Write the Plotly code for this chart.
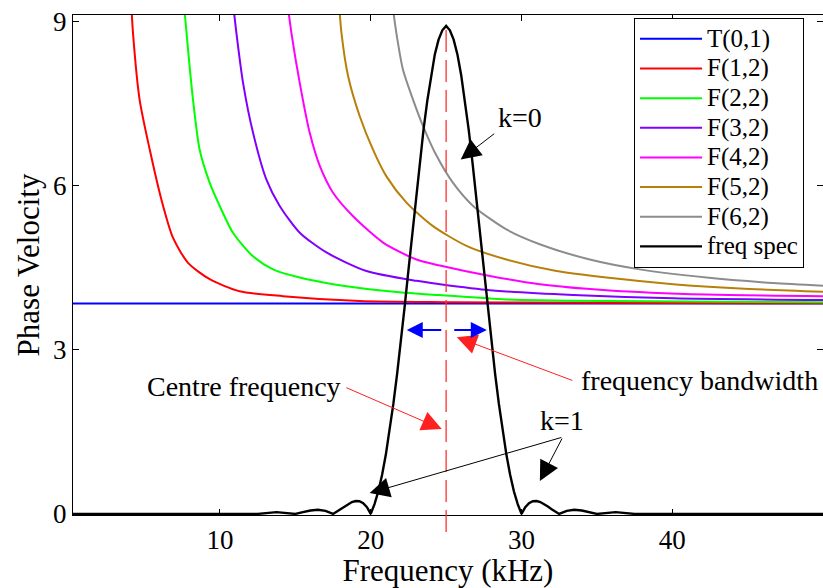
import plotly.graph_objects as go

# ---------------- data ----------------
series_names = ["T(0,1)", "F(1,2)", "F(2,2)", "F(3,2)", "F(4,2)", "F(5,2)", "F(6,2)", "freq spec"]
series_colors = ["#0000FF", "#FF0000", "#00FF00", "#8000FF", "#FF00FF", "#B8800A", "#8C8C8C", "#000000"]

t01_x = [0.25, 50.0]
t01_y = [3.845, 3.845]

f12_x = [4.08, 4.23, 4.67, 5.34, 6.11, 6.88, 7.88, 9.32, 11.3, 14.18, 19.27, 25.0, 35.0, 50.0]
f12_y = [9.5, 8.79, 7.57, 6.66, 5.75, 5.05, 4.59, 4.29, 4.07, 3.98, 3.89, 3.87, 3.86, 3.85]

f22_x = [7.55, 7.88, 8.21, 8.65, 9.32, 9.98, 10.86, 12.19, 13.52, 15.29, 17.5, 21.9, 24.58, 29.0, 35.64, 50.0]
f22_y = [9.5, 8.49, 7.57, 6.66, 6.05, 5.63, 5.14, 4.71, 4.47, 4.32, 4.20, 4.05, 4.00, 3.92, 3.89, 3.87]

f32_x = [10.8, 11.09, 11.53, 12.19, 13.08, 13.96, 15.29, 17.06, 19.71, 23.03, 24.58, 27.9, 33.42, 40.06, 50.0]
f32_y = [9.5, 8.79, 7.88, 6.97, 6.11, 5.63, 5.14, 4.78, 4.44, 4.26, 4.20, 4.09, 4.00, 3.94, 3.91]

f42_x = [14.4, 14.74, 15.29, 15.95, 16.62, 17.5, 18.83, 20.82, 23.03, 24.58, 27.9, 31.21, 35.64, 42.27, 50.0]
f42_y = [9.5, 8.79, 7.88, 6.97, 6.36, 5.87, 5.44, 4.96, 4.65, 4.54, 4.35, 4.20, 4.09, 4.01, 3.98]

f52_x = [17.85, 18.06, 18.5, 19.27, 20.15, 21.04, 22.37, 24.13, 26.35, 29.0, 32.32, 35.64, 40.06, 44.49, 50.0]
f52_y = [9.5, 8.79, 8.0, 7.27, 6.66, 6.17, 5.69, 5.26, 4.90, 4.65, 4.44, 4.32, 4.20, 4.12, 4.06]

f62_x = [21.35, 21.7, 22.14, 22.81, 23.47, 24.36, 25.46, 26.79, 29.0, 31.21, 34.53, 37.85, 42.27, 46.7, 50.0]
f62_y = [9.5, 8.79, 8.12, 7.57, 7.09, 6.55, 6.05, 5.63, 5.20, 4.93, 4.65, 4.47, 4.32, 4.22, 4.17]

spec_x = [0.25, 12.5, 13.75, 15.0, 15.5, 16.0, 16.5, 17.0, 17.5, 17.75, 18.0, 18.25, 18.5, 18.75,
          19.0, 19.25, 19.5, 19.75, 20.0, 20.25, 20.5, 20.75, 21.0, 21.25, 21.5, 21.75, 22.0,
          22.25, 22.5, 22.75, 23.0, 23.25, 23.5, 23.75, 24.0, 24.25, 24.5, 24.75, 25.0,
          25.25, 25.5, 25.75, 26.0, 26.25, 26.5, 26.75, 27.0, 27.25, 27.5, 27.75, 28.0,
          28.25, 28.5, 28.75, 29.0, 29.25, 29.5, 29.75, 30.0, 30.25, 30.5, 30.75, 31.0,
          31.25, 31.5, 31.75, 32.0, 32.25, 32.5, 33.0, 33.5, 34.0, 34.5, 35.0, 36.25, 37.5, 50.0]
spec_y = [0.0, 0.0, 0.033, 0.0, 0.033, 0.063, 0.075, 0.056, 0.0, 0.041, 0.087, 0.135, 0.180, 0.216,
          0.236, 0.232, 0.197, 0.122, 0.0, 0.18, 0.41, 0.71, 1.08, 1.51, 2.01, 2.56, 3.15,
          3.79, 4.45, 5.12, 5.78, 6.42, 7.02, 7.55, 8.02, 8.40, 8.67, 8.84, 8.92,
          8.84, 8.67, 8.40, 8.02, 7.55, 7.02, 6.42, 5.78, 5.12, 4.45, 3.79, 3.15,
          2.56, 2.01, 1.51, 1.08, 0.71, 0.41, 0.18, 0.0, 0.122, 0.197, 0.232, 0.236,
          0.216, 0.180, 0.135, 0.087, 0.041, 0.0, 0.056, 0.075, 0.063, 0.033, 0.0, 0.033, 0.0, 0.0]

series_x = [t01_x, f12_x, f22_x, f32_x, f42_x, f52_x, f62_x, spec_x]
series_y = [t01_y, f12_y, f22_y, f32_y, f42_y, f52_y, f62_y, spec_y]

x_ticks = [10, 20, 30, 40]
y_ticks = [0, 3, 6, 9]
x_range = [0.25, 50.0]
y_range = [-0.02, 9.12]

centre_freq = 25.0
centre_line_y = [-0.33, 8.98]

FONT = "Liberation Serif"

fig = go.Figure()
for i, (name, col, xs, ys) in enumerate(zip(series_names, series_colors, series_x, series_y)):
    straight = (name == "freq spec") or i == 0
    fig.add_trace(go.Scatter(
        x=xs, y=ys, mode="lines",
        name='<span style="font-size:25px">' + name + '</span>',
        line=dict(color=col, width=2.4 if name == "freq spec" else 2,
                  shape="linear" if straight else "spline",
                  smoothing=None if straight else 0.7),
    ))

# red dashed centre-frequency line (extends slightly below the axis)
def to_paper(v):
    return (v - y_range[0]) / (y_range[1] - y_range[0])

fig.add_shape(type="line", xref="x", yref="paper",
              x0=centre_freq, x1=centre_freq,
              y0=to_paper(centre_line_y[0]), y1=to_paper(centre_line_y[1]),
              line=dict(color="#FF3030", width=1.3, dash="22px,8px"))

ann_font = dict(family=FONT, size=28, color="black")

texts = [
    ("k=0", 29.89, 7.24),
    ("Centre frequency", 11.57, 2.32),
    ("frequency bandwidth", 41.8, 2.43),
    ("k=1", 32.71, 1.70),
]
for t, x, y in texts:
    fig.add_annotation(x=x, y=y, text=t, showarrow=False, font=ann_font,
                       xanchor="center", yanchor="middle")

# arrows: (tail_x, tail_y, tip_x, tip_y, color, width, size)
arrows = [
    (28.29, 6.97, 25.97, 6.48, "black", 1, 4),
    (18.28, 2.32, 24.71, 1.55, "#FF2020", 1, 4),
    (33.47, 2.43, 25.71, 3.23, "#FF2020", 1, 4),
    (32.74, 1.405, 19.93, 0.38, "black", 1, 4),
    (32.74, 1.405, 31.22, 0.60, "black", 1, 4),
    (24.78, 3.36, 22.39, 3.36, "#0000FF", 2, 1.6),
    (25.44, 3.36, 27.70, 3.36, "#0000FF", 2, 1.6),
]
for tx, ty, hx, hy, col, w, s in arrows:
    fig.add_annotation(x=hx, y=hy, ax=tx, ay=ty, xref="x", yref="y", axref="x", ayref="y",
                       text="", showarrow=True, arrowhead=2, arrowsize=s, arrowwidth=w,
                       arrowcolor=col, standoff=0, startstandoff=0)

axis_common = dict(
    ticks="inside", ticklen=6, tickwidth=1, tickcolor="black",
    showline=True, linecolor="black", linewidth=1, mirror="ticks",
    showgrid=False, zeroline=False,
    tickfont=dict(family=FONT, size=27, color="black"),
)

fig.update_xaxes(range=x_range, tickvals=x_ticks, ticklabelstandoff=1,
                 title=dict(text="Frequency (kHz)", font=dict(family=FONT, size=31, color="black"), standoff=17),
                 **axis_common)
fig.update_yaxes(range=y_range, tickvals=y_ticks, ticklabelstandoff=0,
                 title=dict(text="Phase Velocity", font=dict(family=FONT, size=31, color="black"), standoff=4),
                 **axis_common)

fig.update_layout(
    width=823, height=588,
    margin=dict(l=73, r=0, t=15, b=73, autoexpand=False),
    plot_bgcolor="white", paper_bgcolor="white",
    font=dict(family=FONT, color="black"),
    showlegend=True,
    legend=dict(
        x=0.9747, y=0.994, xanchor="right", yanchor="top",
        bgcolor="white", bordercolor="black", borderwidth=1,
        font=dict(family=FONT, size=20.5, color="black"),
        itemwidth=62, tracegroupgap=0,
    ),
)

fig.write_html("out.html", config={"displayModeBar": False},
               post_script="document.body.style.margin='0px';document.body.style.padding='0px';")
